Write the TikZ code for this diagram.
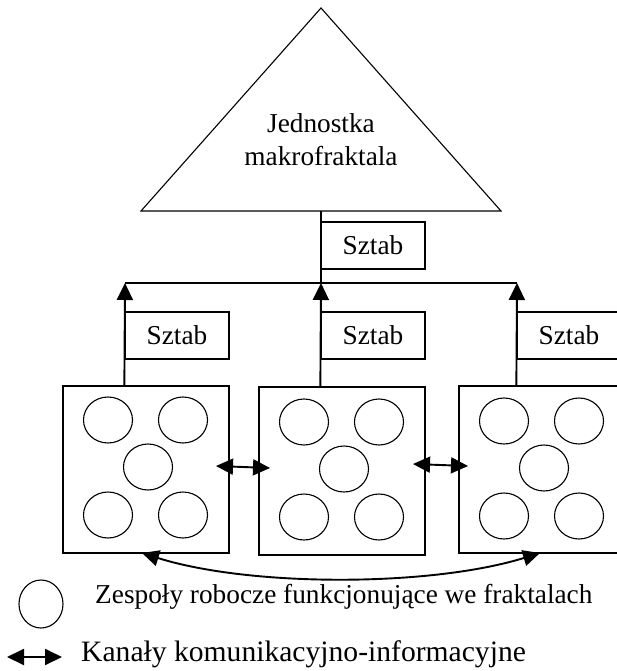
\documentclass[tikz,border=0pt]{standalone}
\usepackage{fontspec}
\setmainfont{Liberation Serif}
\usetikzlibrary{arrows.meta,shapes.geometric}
\begin{document}
\begin{tikzpicture}[x=1pt,y=-1pt,
  font=\fontsize{27.3}{32}\selectfont,
  boxline/.style={draw=black,line width=1.3pt},
  sztabbox/.style={boxline,minimum width=104pt,minimum height=47pt,inner sep=0pt},
  fractal/.style={boxline,minimum width=166pt,minimum height=167pt,inner sep=0pt},
  team/.style={draw=black,line width=1.1pt,ellipse,minimum width=49pt,minimum height=46pt,inner sep=0pt},
  tip/.tip={Triangle[length=17pt,width=16pt]},
  uparrow/.style={line width=1.9pt,-tip},
  chan/.style={line width=1.9pt,tip-tip},
  lbl/.style={inner sep=0pt,anchor=base west}
]
\clip (0,0) rectangle (617,671);
\fill[white] (0,0) rectangle (617,671);
% triangle (makrofractal unit)
\coordinate (apex) at (321,8);
\coordinate (tl) at (141,211);
\coordinate (tr) at (501,211);
\draw[line width=1.1pt,line join=miter] (apex) -- (tl) -- (tr) -- cycle;
\node[inner sep=0pt,anchor=base] (t1) at (321,133) {Jednostka};
\node[inner sep=0pt,anchor=base] (t2) at (321,165) {makrofraktala};
% top staff
\node[sztabbox] (sztT) at (373,245.5) {Sztab};
% middle staffs
\node[sztabbox] (sztL) at (177,335.5) {Sztab};
\node[sztabbox] (sztM) at (373,335.5) {Sztab};
\node[sztabbox] (sztR) at (569,335.5) {Sztab};
% fractal boxes
\node[fractal] (bigL) at (146,469.5) {};
\node[fractal,minimum height=168pt] (bigM) at (342,471) {};
\node[fractal] (bigR) at (542,469.5) {};
% teams
\foreach \b/\x/\y in {L/63/385, M/259/387, R/459/386}{
  \node[team] (\b a) at (\x+45,\y+35) {};
  \node[team] (\b b) at (\x+120,\y+35) {};
  \node[team] (\b c) at (\x+85,\y+82) {};
  \node[team] (\b d) at (\x+45,\y+130) {};
  \node[team] (\b e) at (\x+120,\y+130) {};
}
% hierarchy lines
\coordinate (hL) at (125,283);
\coordinate (hM) at (321,283);
\coordinate (hR) at (517,283);
\draw[boxline] (hL) -- (hR);
\draw[boxline] (hM |- tl) -- (hM);
\draw[uparrow] (sztL.west |- bigL.north) -- (hL);
\draw[uparrow] (sztM.west |- bigM.north) -- (hM);
\draw[uparrow] (sztR.west |- bigR.north) -- (hR);
% communication channels
\coordinate (c1a) at (216,466);
\coordinate (c1b) at (270,468);
\coordinate (c2a) at (413,464);
\coordinate (c2b) at (468,466);
\draw[chan] (c1a) -- (c1b);
\draw[chan] (c2a) -- (c2b);
\coordinate (c3a) at (142,553);
\coordinate (c3b) at (540,553);
\draw[chan] (c3a) .. controls (250,587) and (430,587) .. (c3b);
% legend
\node[team,minimum width=44pt,minimum height=48pt] (legC) at (41,604) {};
\node[lbl] (legT1) at (95,603) {Zespoły robocze funkcjonujące we fraktalach};
\coordinate (la) at (7,657);
\coordinate (lb) at (62,657);
\draw[chan] (la) -- (lb);
\node[lbl,font=\fontsize{29.6}{34}\selectfont] (legT2) at (81,661) {Kanały komunikacyjno-informacyjne};
\end{tikzpicture}
\end{document}
